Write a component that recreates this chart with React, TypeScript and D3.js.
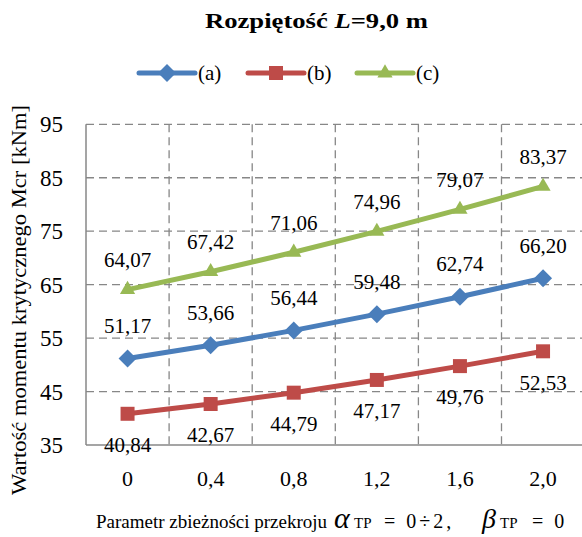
import React from 'react';
import * as d3 from 'd3';

// chart values
const categories = ['0', '0,4', '0,8', '1,2', '1,6', '2,0'];
const seriesA = [51.17, 53.66, 56.44, 59.48, 62.74, 66.2];
const seriesB = [40.84, 42.67, 44.79, 47.17, 49.76, 52.53];
const seriesC = [64.07, 67.42, 71.06, 74.96, 79.07, 83.37];
const yTicks = [35, 45, 55, 65, 75, 85, 95];

const W = 582;
const H = 537;
const FONT = "'Liberation Serif', 'Times New Roman', 'DejaVu Serif', serif";

const series = [
  { name: '(a)', values: seriesA, color: '#4A7EBB', marker: 'diamond', labelDy: -33 },
  { name: '(b)', values: seriesB, color: '#BE4B48', marker: 'square', labelDy: 31 },
  { name: '(c)', values: seriesC, color: '#98B954', marker: 'triangle', labelDy: -30 },
];

const markerPath = (kind: string) => {
  if (kind === 'diamond') return d3.symbol(d3.symbolSquare, 162)()!;
  if (kind === 'square') return d3.symbol(d3.symbolSquare, 196)()!;
  return d3.symbol(d3.symbolTriangle, 100)()!;
};

const fmt = (v: number) => d3.format('.2f')(v).replace('.', ',');

const txt = { fontFamily: FONT, fill: '#000' };

const App: React.FC = () => {
  const left = 86;
  const right = 584.6;
  const top = 124.3;
  const bottom = 445;

  const x = d3.scalePoint<string>().domain(categories).range([left, right]).padding(0.5);
  const y = d3.scaleLinear().domain([35, 95]).range([bottom, top]);
  const step = x.step();

  const line = d3
    .line<number>()
    .x((_, i) => x(categories[i])!)
    .y(d => y(d));

  const gridColor = '#878787';

  return (
    <svg
      width={W}
      height={H}
      style={{ position: 'absolute', left: 0, top: 0, background: '#fff', fontFamily: FONT }}
    >
      {/* title */}
      <text
        x={205}
        y={28}
        fontSize={22}
        fontWeight="bold"
        style={txt}
        textLength={223}
        lengthAdjust="spacingAndGlyphs"
      >
        Rozpiętość <tspan fontStyle="italic">L</tspan>=9,0 m
      </text>

      {/* legend */}
      {series.map((s, i) => {
        const lx = [139, 248, 357][i];
        const ly = 73;
        return (
          <g key={s.name}>
            <line x1={lx} x2={lx + 56} y1={ly} y2={ly} stroke={s.color} strokeWidth={5} strokeLinecap="round" />
            <path
              d={markerPath(s.marker)}
              transform={`translate(${lx + 28},${ly})${s.marker === 'diamond' ? ' rotate(45)' : ''}`}
              fill={s.color}
            />
            <text x={lx + 59} y={ly} dy="0.35em" fontSize={21} style={txt}>
              {s.name}
            </text>
          </g>
        );
      })}

      {/* horizontal grid */}
      {yTicks.slice(1).map(t => (
        <line
          key={t}
          x1={left}
          x2={right}
          y1={y(t)}
          y2={y(t)}
          stroke={gridColor}
          strokeWidth={1.3}
          strokeDasharray="8,5"
        />
      ))}
      {/* vertical grid */}
      {categories.slice(1).map(c => (
        <line
          key={c}
          x1={x(c)! - step / 2}
          x2={x(c)! - step / 2}
          y1={top}
          y2={bottom}
          stroke={gridColor}
          strokeWidth={1.3}
          strokeDasharray="8,5"
        />
      ))}

      {/* axes */}
      <line x1={left} x2={left} y1={top} y2={bottom} stroke={gridColor} strokeWidth={1.5} />
      <line x1={left} x2={right} y1={bottom} y2={bottom} stroke={gridColor} strokeWidth={1.5} />

      {yTicks.map(t => (
        <text key={t} x={63} y={y(t)} dy="0.35em" textAnchor="end" fontSize={23} style={txt}>
          {t}
        </text>
      ))}
      {categories.map(c => (
        <text key={c} x={x(c)} y={478} dy="0.35em" textAnchor="middle" fontSize={22} style={txt}>
          {c}
        </text>
      ))}

      {/* series */}
      {series.map(s => (
        <g key={s.name}>
          <path d={line(s.values)!} fill="none" stroke={s.color} strokeWidth={5} strokeLinejoin="round" />
          {s.values.map((v, i) => (
            <path
              key={i}
              d={markerPath(s.marker)}
              transform={`translate(${x(categories[i])},${y(v)})${s.marker === 'diamond' ? ' rotate(45)' : ''}`}
              fill={s.color}
            />
          ))}
        </g>
      ))}

      {/* data labels */}
      {series.map(s =>
        s.values.map((v, i) => (
          <text
            key={s.name + i}
            x={x(categories[i])}
            y={y(v) + s.labelDy}
            dy="0.35em"
            textAnchor="middle"
            fontSize={21}
            style={txt}
          >
            {fmt(v)}
          </text>
        ))
      )}

      {/* axis titles */}
      <text
        transform={`translate(26,300) rotate(-90)`}
        x={-195}
        fontSize={22}
        style={txt}
        textLength={390}
        lengthAdjust="spacingAndGlyphs"
      >
        Wartość momentu krytycznego Mcr [kNm]
      </text>
      <text y={528} fontSize={19} style={txt}>
        <tspan x={96}>Parametr zbieżności przekroju</tspan>
        <tspan x={334} fontStyle="italic" fontSize={30}>α</tspan>
        <tspan x={354} fontSize={15}>TP</tspan>
        <tspan x={384} fontSize={20} letterSpacing={3}>= 0÷2,</tspan>
        <tspan x={482} fontStyle="italic" fontSize={28}>β</tspan>
        <tspan x={500} fontSize={15}>TP</tspan>
        <tspan x={532} fontSize={20} letterSpacing={3}>= 0</tspan>
      </text>
    </svg>
  );
};

export default App;
